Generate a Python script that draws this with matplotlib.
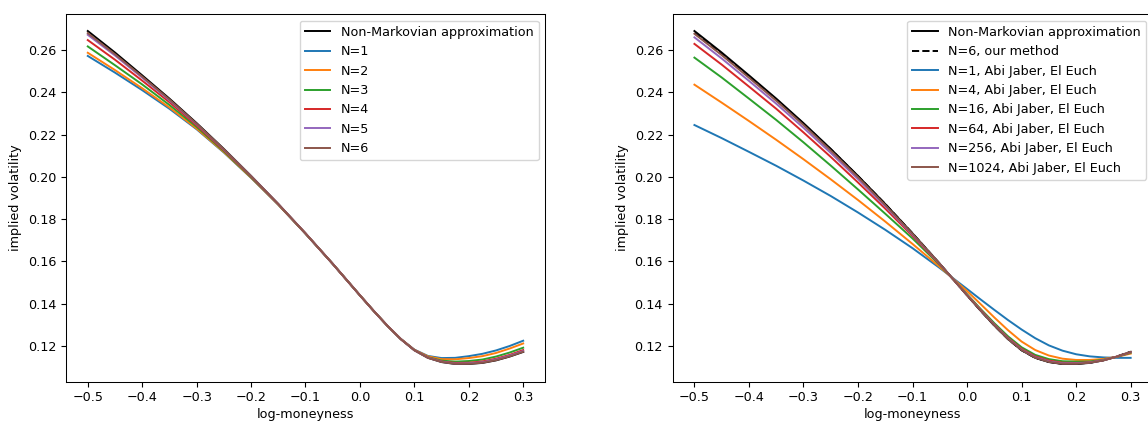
import matplotlib
matplotlib.use("Agg")
import matplotlib.pyplot as plt

plt.rcParams['font.size'] = 9.2
plt.rcParams['lines.linewidth'] = 1.4
plt.rcParams['axes.linewidth'] = 0.75

# log-moneyness grid (denser where the smiles bend)
x = [-0.5, -0.45, -0.4, -0.35, -0.3, -0.25, -0.2, -0.15, -0.1, -0.05,
     0.0, 0.025, 0.05, 0.075, 0.1, 0.125, 0.15, 0.175, 0.2, 0.225, 0.25, 0.275, 0.3]

# non-Markovian reference smile (same in both panels)
non_markov = [0.2690, 0.2588, 0.2480, 0.2370, 0.2254, 0.2132, 0.2004, 0.1871, 0.1732, 0.1588,
              0.1439, 0.1366, 0.1296, 0.1232, 0.1179, 0.1143, 0.1123, 0.1114, 0.1114, 0.1119, 0.1131, 0.1149, 0.1171]

# left panel: our method, N = 1..6
left_labels = ['N=1', 'N=2', 'N=3', 'N=4', 'N=5', 'N=6']
ours_n1 = [0.2572, 0.2493, 0.2410, 0.2322, 0.2225, 0.2115, 0.1995, 0.1868, 0.1731, 0.1588,
           0.1439, 0.1366, 0.1296, 0.1233, 0.1182, 0.1152, 0.1142, 0.1143, 0.1151, 0.1162, 0.1178, 0.1199, 0.1224]
ours_n2 = [0.2587, 0.2505, 0.2419, 0.2328, 0.2228, 0.2117, 0.1996, 0.1868, 0.1731, 0.1588,
           0.1439, 0.1366, 0.1296, 0.1233, 0.1181, 0.1150, 0.1137, 0.1136, 0.1142, 0.1151, 0.1166, 0.1187, 0.1211]
ours_n3 = [0.2617, 0.2528, 0.2437, 0.2340, 0.2236, 0.2121, 0.1998, 0.1869, 0.1731, 0.1588,
           0.1439, 0.1366, 0.1296, 0.1232, 0.1180, 0.1146, 0.1130, 0.1125, 0.1128, 0.1135, 0.1149, 0.1168, 0.1191]
ours_n4 = [0.2647, 0.2554, 0.2455, 0.2353, 0.2243, 0.2125, 0.2001, 0.1870, 0.1732, 0.1588,
           0.1439, 0.1366, 0.1296, 0.1232, 0.1180, 0.1145, 0.1126, 0.1119, 0.1120, 0.1126, 0.1139, 0.1157, 0.1180]
ours_n5 = [0.2672, 0.2574, 0.2469, 0.2362, 0.2249, 0.2129, 0.2003, 0.1871, 0.1732, 0.1588,
           0.1439, 0.1366, 0.1296, 0.1232, 0.1179, 0.1144, 0.1125, 0.1116, 0.1117, 0.1122, 0.1135, 0.1153, 0.1175]
ours_n6 = [0.2680, 0.2580, 0.2474, 0.2366, 0.2251, 0.2130, 0.2003, 0.1871, 0.1732, 0.1588,
           0.1439, 0.1366, 0.1296, 0.1232, 0.1179, 0.1143, 0.1124, 0.1115, 0.1115, 0.1120, 0.1132, 0.1150, 0.1172]

# right panel: Abi Jaber, El Euch
right_labels = ['N=1, Abi Jaber, El Euch', 'N=4, Abi Jaber, El Euch', 'N=16, Abi Jaber, El Euch',
                'N=64, Abi Jaber, El Euch', 'N=256, Abi Jaber, El Euch', 'N=1024, Abi Jaber, El Euch']
aj_n1 = [0.2245, 0.2183, 0.2118, 0.2052, 0.1982, 0.1909, 0.1831, 0.1749, 0.1662, 0.1568,
         0.1469, 0.1419, 0.1370, 0.1322, 0.1277, 0.1236, 0.1202, 0.1177, 0.1160, 0.1150, 0.1145, 0.1143, 0.1143]
aj_n4 = [0.2436, 0.2351, 0.2264, 0.2175, 0.2083, 0.1988, 0.1890, 0.1788, 0.1682, 0.1573,
         0.1459, 0.1397, 0.1334, 0.1274, 0.1220, 0.1180, 0.1154, 0.1139, 0.1133, 0.1133, 0.1138, 0.1148, 0.1163]
aj_n16 = [0.2564, 0.2470, 0.2370, 0.2269, 0.2163, 0.2053, 0.1940, 0.1825, 0.1708, 0.1582,
          0.1444, 0.1374, 0.1307, 0.1245, 0.1193, 0.1157, 0.1137, 0.1127, 0.1125, 0.1126, 0.1134, 0.1148, 0.1167]
aj_n64 = [0.2629, 0.2531, 0.2427, 0.2322, 0.2210, 0.2094, 0.1973, 0.1849, 0.1720, 0.1585,
          0.1441, 0.1370, 0.1301, 0.1238, 0.1186, 0.1150, 0.1130, 0.1120, 0.1119, 0.1122, 0.1132, 0.1149, 0.1169]
aj_n256 = [0.2660, 0.2560, 0.2454, 0.2346, 0.2232, 0.2113, 0.1989, 0.1860, 0.1726, 0.1587,
           0.1440, 0.1368, 0.1299, 0.1235, 0.1182, 0.1146, 0.1126, 0.1117, 0.1117, 0.1121, 0.1132, 0.1149, 0.1170]
aj_n1024 = [0.2677, 0.2576, 0.2469, 0.2360, 0.2245, 0.2124, 0.1998, 0.1866, 0.1730, 0.1588,
            0.1439, 0.1367, 0.1297, 0.1233, 0.1180, 0.1144, 0.1124, 0.1115, 0.1115, 0.1120, 0.1131, 0.1149, 0.1171]

fig = plt.figure(figsize=(11.48, 4.21), dpi=100)
ax1 = fig.add_axes([0.0575, 0.0933, 0.4172, 0.8727])
ax2 = fig.add_axes([0.5859, 0.0933, 0.4180, 0.8727])

# left panel
ax1.plot(x, non_markov, color='k', label='Non-Markovian approximation')
for lab, vals in zip(left_labels, [ours_n1, ours_n2, ours_n3, ours_n4, ours_n5, ours_n6]):
    ax1.plot(x, vals, label=lab)

# right panel
ax2.plot(x, non_markov, color='k', label='Non-Markovian approximation')
ax2.plot(x, ours_n6, 'k--', label='N=6, our method')
for lab, vals in zip(right_labels, [aj_n1, aj_n4, aj_n16, aj_n64, aj_n256, aj_n1024]):
    ax2.plot(x, vals, label=lab)

for ax in (ax1, ax2):
    ax.set_xlim(-0.54, 0.34)
    ax.set_ylim(0.103, 0.2769)
    ax.set_xlabel('log-moneyness', labelpad=2.5)
    ax.set_ylabel('implied volatility')
    ax.legend(loc='upper right')

fig.savefig('out.png', dpi=100)
